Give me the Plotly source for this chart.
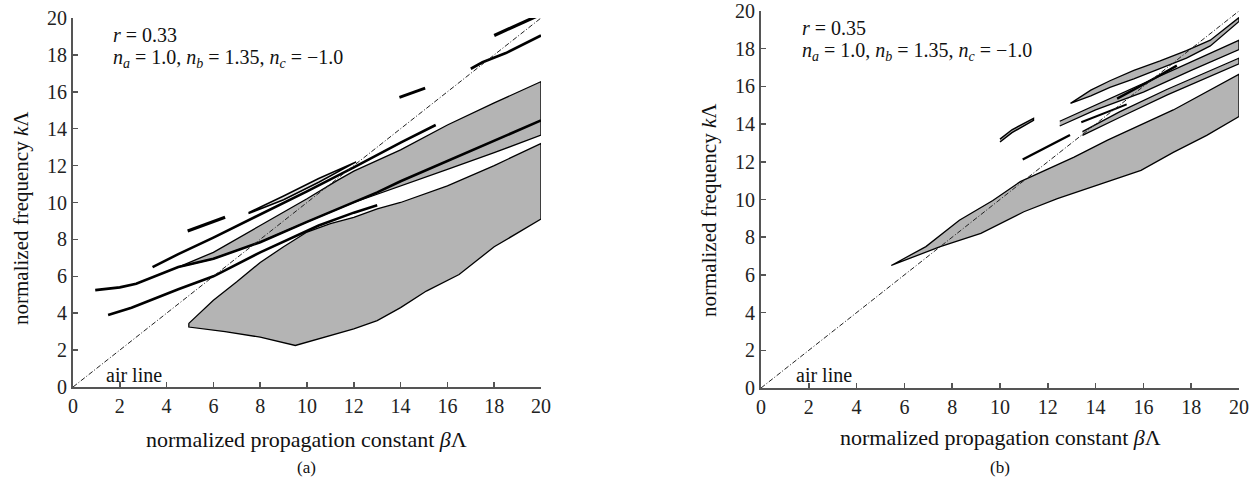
import plotly.graph_objects as go

# ---------------- data: panel (a) ----------------
a_low_x = [4.95, 4.95, 6.5, 8.0, 9.5, 10.5, 12.0, 13.0, 14.0, 15.1, 16.5, 18.0, 20.0, 20.0, 18.0, 16.0, 14.0, 13.0, 12.0, 11.0, 10.0, 9.0, 8.0, 7.0, 6.0, 4.95]
a_low_y = [3.45, 3.25, 3.0, 2.7, 2.25, 2.6, 3.15, 3.6, 4.3, 5.2, 6.1, 7.6, 9.1, 13.2, 12.0, 10.9, 10.0, 9.65, 9.2, 8.85, 8.4, 7.6, 6.75, 5.7, 4.7, 3.45]

a_band_x = [4.5, 6.0, 8.0, 10.0, 11.3, 12.0, 14.0, 16.0, 18.0, 20.0, 20.0, 18.0, 16.0, 14.0, 13.0, 12.0, 10.0, 8.0, 6.0, 4.5]
a_band_y = [6.5, 7.3, 8.75, 10.2, 11.2, 11.7, 12.85, 14.2, 15.4, 16.55, 13.65, 12.7, 11.8, 10.9, 10.45, 10.0, 8.95, 7.85, 6.95, 6.5]

a_sliver_x = [7.5, 9.0, 10.5, 12.1, 10.5, 9.0, 7.5]
a_sliver_y = [9.45, 10.35, 11.3, 12.2, 11.1, 10.15, 9.4]

a_line2_x = [0.95, 2.0, 2.7, 3.5, 4.5, 6.0, 8.0, 10.0, 12.0, 13.0, 14.0, 16.0, 18.0, 20.0]
a_line2_y = [5.25, 5.4, 5.6, 6.0, 6.5, 6.95, 7.85, 8.95, 10.0, 10.55, 11.15, 12.25, 13.35, 14.45]

a_line3_x = [1.5, 2.5, 3.5, 4.5, 6.0, 8.0, 10.5, 12.0, 13.0]
a_line3_y = [3.9, 4.3, 4.8, 5.3, 6.0, 7.3, 8.75, 9.45, 9.85]

a_line1_x = [3.4, 4.5, 6.0, 8.4, 10.0, 12.0, 14.0, 15.5]
a_line1_y = [6.5, 7.2, 8.1, 9.6, 10.6, 11.9, 13.25, 14.2]

a_seg1_x = [4.9, 6.5]
a_seg1_y = [8.45, 9.2]
a_seg2_x = [13.95, 15.05]
a_seg2_y = [15.7, 16.2]
a_seg3_x = [17.0, 17.5, 18.5, 20.0]
a_seg3_y = [17.25, 17.6, 18.1, 19.05]
a_seg4_x = [18.0, 20.0]
a_seg4_y = [19.05, 20.2]

# ---------------- data: panel (b) ----------------
b_main_x = [5.45, 6.9, 8.3, 9.7, 10.85, 13.1, 14.5, 15.9, 17.25, 20.0, 20.0, 18.65, 17.25, 15.9, 14.5, 12.4, 11.0, 9.2, 7.5, 5.45]
b_main_y = [6.5, 7.5, 8.9, 9.95, 10.95, 12.25, 13.15, 13.95, 14.75, 16.65, 14.4, 13.4, 12.5, 11.55, 10.95, 10.05, 9.35, 8.2, 7.5, 6.5]

b_band1_x = [13.45, 15.0, 17.0, 20.0, 20.0, 17.0, 15.0, 13.45]
b_band1_y = [13.6, 14.65, 15.85, 17.5, 17.2, 15.55, 14.35, 13.4]

b_band2_x = [12.5, 14.0, 16.0, 18.0, 20.0, 20.0, 18.0, 16.0, 14.0, 12.5]
b_band2_y = [14.15, 15.0, 16.15, 17.3, 18.45, 17.95, 16.85, 15.7, 14.75, 13.9]

b_lens_x = [12.95, 13.8, 14.6, 15.6, 16.7, 17.8, 18.8, 20.0, 20.0, 18.8, 17.8, 16.7, 15.6, 14.6, 13.8, 12.95]
b_lens_y = [15.1, 15.8, 16.3, 16.85, 17.35, 17.9, 18.45, 19.65, 19.45, 18.15, 17.5, 16.95, 16.4, 15.95, 15.5, 15.1]

b_small_x = [10.0, 10.5, 11.4, 11.4, 10.5, 10.0]
b_small_y = [13.2, 13.7, 14.3, 14.2, 13.55, 13.05]

b_seg1_x = [10.95, 12.93]
b_seg1_y = [12.12, 13.42]
b_seg2_x = [13.4, 15.3]
b_seg2_y = [14.1, 15.05]
b_seg3_x = [14.9, 16.0, 17.4]
b_seg3_y = [15.35, 16.1, 17.1]

air_x = [0, 20]
air_y = [0, 20]

tick_vals = [0, 2, 4, 6, 8, 10, 12, 14, 16, 18, 20]
tick_text = [str(v) for v in tick_vals]

GRAY = "#b4b4b4"
FONT = "Liberation Serif, Times New Roman, serif"

fig = go.Figure()


def poly(x, y, xa, ya, fill=GRAY, w=1.3):
    fig.add_trace(go.Scatter(x=x, y=y, mode="lines", fill="toself", fillcolor=fill,
                             line=dict(color="black", width=w), xaxis=xa, yaxis=ya,
                             hoverinfo="skip", showlegend=False))


def line(x, y, xa, ya, w=2.6, dash="solid", color="black"):
    fig.add_trace(go.Scatter(x=x, y=y, mode="lines",
                             line=dict(color=color, width=w, dash=dash),
                             xaxis=xa, yaxis=ya, hoverinfo="skip", showlegend=False))


# panel (a)
poly(a_low_x, a_low_y, "x", "y")
poly(a_band_x, a_band_y, "x", "y")
poly(a_sliver_x, a_sliver_y, "x", "y", fill="#e6e6e6", w=1.5)
line(a_line2_x, a_line2_y, "x", "y", w=2.6)
line(a_line3_x, a_line3_y, "x", "y", w=2.6)
line(a_line1_x, a_line1_y, "x", "y", w=2.6)
line(a_seg1_x, a_seg1_y, "x", "y", w=3.2)
line(a_seg2_x, a_seg2_y, "x", "y", w=2.8)
line(a_seg3_x, a_seg3_y, "x", "y", w=2.6)
line(a_seg4_x, a_seg4_y, "x", "y", w=3.2)
line(air_x, air_y, "x", "y", w=1, dash="5px,2px,1px,2px", color="#222")

# panel (b)
poly(b_main_x, b_main_y, "x2", "y2")
poly(b_band1_x, b_band1_y, "x2", "y2")
poly(b_band2_x, b_band2_y, "x2", "y2")
poly(b_lens_x, b_lens_y, "x2", "y2")
poly(b_small_x, b_small_y, "x2", "y2", w=1.5)
line(b_seg1_x, b_seg1_y, "x2", "y2", w=2.4)
line(b_seg2_x, b_seg2_y, "x2", "y2", w=2.0)
line(b_seg3_x, b_seg3_y, "x2", "y2", w=2.4)
line(air_x, air_y, "x2", "y2", w=1, dash="5px,2px,1px,2px", color="#222")

W, H = 1255, 494


def px(v):
    return v / W


def py(v):
    return 1 - v / H


axis_common = dict(range=[0, 20], tickvals=tick_vals, ticktext=tick_text, ticks="inside",
                   ticklen=5, tickwidth=1.5, tickcolor="#555", showline=True,
                   linecolor="#555", linewidth=2, showgrid=False, zeroline=False,
                   automargin=False, ticklabeloverflow="allow",
                   tickfont=dict(family=FONT, size=20, color="#222"), fixedrange=True)

fig.update_layout(
    width=W, height=H, margin=dict(l=0, r=0, t=0, b=0, autoexpand=False),
    paper_bgcolor="white", plot_bgcolor="white",
    font=dict(family=FONT, size=18, color="#111"),
    xaxis=dict(domain=[px(73), px(541)], anchor="y", **axis_common),
    yaxis=dict(domain=[py(387), py(18)], anchor="x", **axis_common),
    xaxis2=dict(domain=[px(761), px(1239)], anchor="y2", **axis_common),
    yaxis2=dict(domain=[py(388), py(11)], anchor="x2", **axis_common),
)

ann = []


def text(x, y, s, size=19, angle=0, xanchor="center"):
    ann.append(dict(x=px(x), y=py(y), xref="paper", yref="paper", text=s, showarrow=False,
                    font=dict(family=FONT, size=size, color="#111"), textangle=angle,
                    xanchor=xanchor, yanchor="middle"))


NLINE = "<i>n<sub>a</sub></i> = 1.0, <i>n<sub>b</sub></i> = 1.35, <i>n<sub>c</sub></i> = \u22121.0"

# panel (a) texts
text(111, 35, "<i>r</i> = 0.33", size=20, xanchor="left")
text(111, 58, NLINE, size=20, xanchor="left")
text(104, 375, "air line", size=20, xanchor="left")
text(21, 218, "normalized frequency <i>k</i>\u039b", size=21, angle=-90)
text(306, 439, "normalized propagation constant <i>\u03b2</i>\u039b", size=22)
text(306, 467, "(a)", size=17)

# panel (b) texts
text(800, 28, "<i>r</i> = 0.35", size=20, xanchor="left")
text(800, 51, NLINE, size=20, xanchor="left")
text(794, 375, "air line", size=20, xanchor="left")
text(709, 210, "normalized frequency <i>k</i>\u039b", size=21, angle=-90)
text(1000, 437, "normalized propagation constant <i>\u03b2</i>\u039b", size=22)
text(1000, 467, "(b)", size=17)

fig.update_layout(annotations=ann)
fig.write_html("out.html",
               config={"displayModeBar": False, "staticPlot": True},
               post_script="document.body.style.margin='0';document.body.style.overflow='hidden';")
